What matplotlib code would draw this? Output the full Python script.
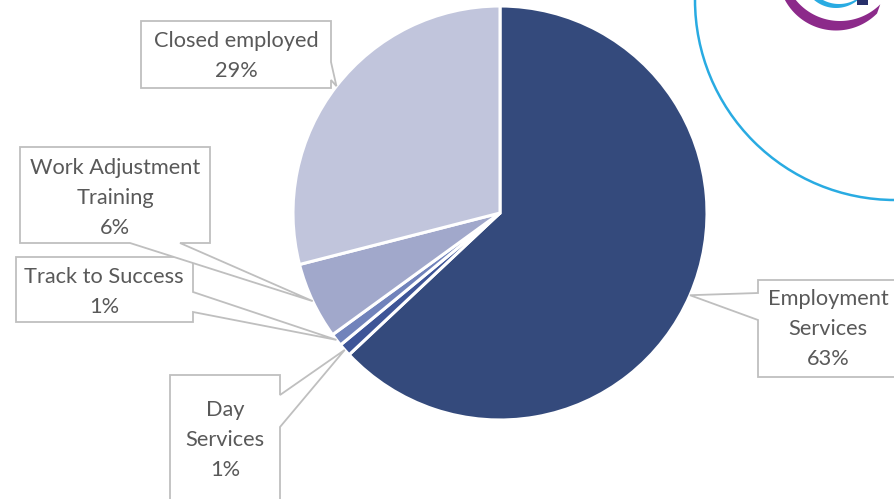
import numpy as np
import matplotlib.pyplot as plt
from matplotlib.patches import Polygon, Circle

# Share of closures by service type
categories = ["Employment\nServices", "Day\nServices", "Track to Success",
              "Work Adjustment\nTraining", "Closed employed"]
values = [63, 1, 1, 6, 29]
colors = ["#344a7c", "#3e5597", "#7183bb", "#a1a8cb", "#c1c5dc"]

W, H = 894, 499

def fy(y):
    # pixel row (top-down) -> data y
    return H - y

# callout boxes: (left, top, right, bottom), pointer edge, pointer offsets, text centre
boxes = [
    ((758, 280, 905, 377), "left", (293, 320), (828, 329)),
    ((170, 375, 280, 510), "right", (395, 427), (225, 440)),
    ((16, 257, 193, 322), "right", (292, 312), (104, 292)),
    ((20, 147, 210, 243), "bottom", (130, 180), (115, 198)),
    ((141, 21, 331, 88), "right", (62, 80), (236, 56)),
]

plt.rcParams["font.family"] = ["Lato", "DejaVu Sans"]
fig = plt.figure(figsize=(W / 100, H / 100), dpi=100)
ax = fig.add_axes([0, 0, 1, 1])

cx, cy, r = 500, fy(213), 207
wedges, _ = ax.pie(values, colors=colors, startangle=90, counterclock=False,
                   center=(cx, cy), radius=r,
                   wedgeprops=dict(edgecolor="white", linewidth=2.2))

ax.set_xlim(0, W)
ax.set_ylim(0, H)
ax.set_aspect("equal")
ax.axis("off")

# decorative ring and logo in the corner
ax.add_patch(Circle((895, fy(0)), 200, fill=False, edgecolor="#29abe2", linewidth=1.8))

def crescent(c_out, r_out, c_in, r_in, a0, a1):
    t = np.radians(np.linspace(a0, a1, 60))
    outer = np.column_stack([c_out[0] + r_out * np.cos(t), fy(c_out[1] + r_out * np.sin(t))])
    inner = np.column_stack([c_in[0] + r_in * np.cos(t[::-1]), fy(c_in[1] + r_in * np.sin(t[::-1]))])
    return np.vstack([outer, inner])

ax.add_patch(Polygon(crescent((836, -27.5), 58, (840, -36), 57, 45, 153),
                     closed=True, facecolor="#8c2a8a", edgecolor="none"))
ax.add_patch(Polygon(crescent((836, -26), 34, (839, -30), 34, 40, 145),
                     closed=True, facecolor="#29abe2", edgecolor="none"))
ax.add_patch(Polygon([(857, fy(0)), (868, fy(0)), (868, fy(5)), (857, fy(5))],
                     closed=True, facecolor="#27306b", edgecolor="none"))

# callouts
for w, cat, val, (rect, side, (p1, p2), (tx, ty)) in zip(wedges, categories, values, boxes):
    mid = np.radians((w.theta1 + w.theta2) / 2)
    tip = (cx + r * np.cos(mid), cy + r * np.sin(mid))
    x0, y0, x1, y1 = rect
    if side == "right":
        pts = [(x0, y0), (x1, y0), (x1, p1), None, (x1, p2), (x1, y1), (x0, y1)]
    elif side == "left":
        pts = [(x0, y0), (x1, y0), (x1, y1), (x0, y1), (x0, p2), None, (x0, p1)]
    else:
        pts = [(x0, y0), (x1, y0), (x1, y1), (p2, y1), None, (p1, y1), (x0, y1)]
    poly = [tip if p is None else (p[0], fy(p[1])) for p in pts]
    ax.add_patch(Polygon(poly, closed=True, facecolor="white", edgecolor="#bfbfbf",
                         linewidth=1.3, zorder=3))
    ax.text(tx, fy(ty), f"{cat}\n{val}%", ha="center", va="center", fontsize=15.7,
            color="#595959", linespacing=1.62, zorder=4)

fig.savefig("out.png", dpi=100)
